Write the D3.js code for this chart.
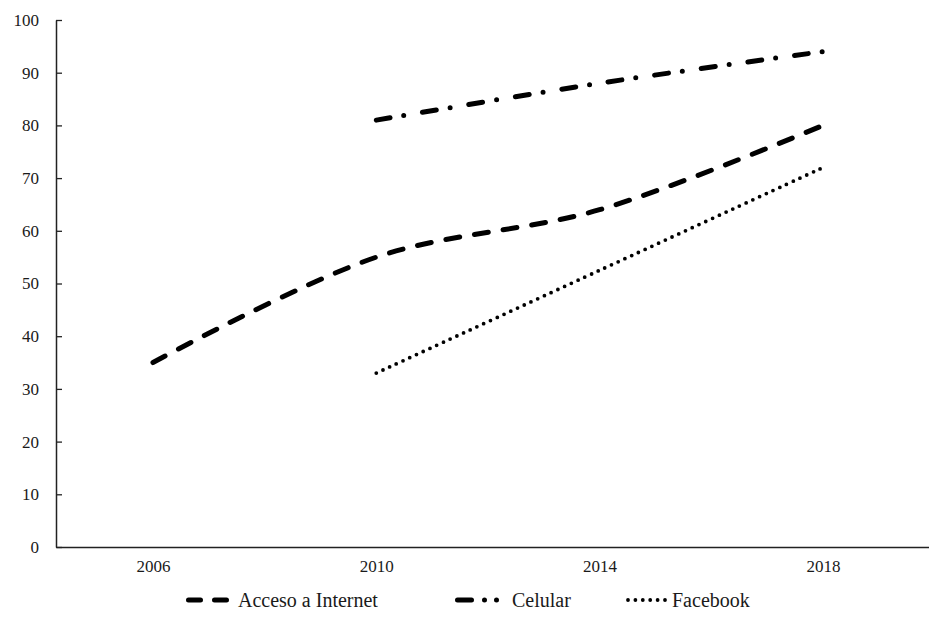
<!DOCTYPE html>
<html><head><meta charset="utf-8">
<script src="https://cdn.jsdelivr.net/npm/d3@7"></script>
<style>body{margin:0;background:#fff;}</style></head>
<body><svg id="c" width="929" height="624"></svg>
<script>
const years = [2006, 2010, 2014, 2018];
const yTicks = [0,10,20,30,40,50,60,70,80,90,100];
const acceso = [35, 55, 64, 80];
const celular = [null, 81, 88, 94];
const facebook = [null, 33, 52.5, 72];
const seriesNames = ["Acceso a Internet", "Celular", "Facebook"];

const FONT = '"Liberation Serif"';
const svg = d3.select("#c");
const mLeft = 56, mRight = 929, mTop = 20, mBottom = 547;
const x = d3.scaleLinear().domain([2004.263, 2019.9]).range([mLeft, mRight]);
const y = d3.scaleLinear().domain([0, 100]).range([mBottom, mTop]);

// Y axis
const ya = svg.append("g").attr("transform", `translate(${mLeft},0)`)
  .call(d3.axisLeft(y).tickValues(yTicks).tickSizeInner(-6).tickSizeOuter(0).tickPadding(17));
ya.select(".domain").attr("stroke", "#222").attr("stroke-width", 1.5);
ya.selectAll(".tick line").attr("stroke", "#222").attr("stroke-width", 1.3);
ya.selectAll("text").style("font-family", FONT).style("font-size", "17px").attr("fill", "#1a1a1a");

// X axis
const xa = svg.append("g").attr("transform", `translate(0,${mBottom})`)
  .call(d3.axisBottom(x).tickValues(years).tickFormat(d3.format("d")).tickSize(0).tickPadding(13));
xa.select(".domain").attr("stroke", "#222").attr("stroke-width", 1.5);
xa.selectAll("text").style("font-family", FONT).style("font-size", "17px").attr("fill", "#1a1a1a");

const styles = [
  {vals: acceso, w: 5, dash: "14,15"},
  {vals: celular, w: 5, dash: "14,14,0,19"},
  {vals: facebook, w: 3.8, dash: "0,7.4"}
];
const line = d3.line().x(d => x(d.yr)).y(d => y(d.v))
  .curve(d3.curveCatmullRom.alpha(0.5));
styles.forEach(s => {
  const pts = years.map((yr, i) => ({yr, v: s.vals[i]})).filter(d => d.v != null);
  svg.append("path").datum(pts).attr("d", line)
    .attr("fill", "none").attr("stroke", "#000").attr("stroke-width", s.w)
    .attr("stroke-linecap", "round").attr("stroke-dasharray", s.dash);
});

// Legend
const legY = 600;
const leg = [
  {name: seriesNames[0], x0: 188.5, len: 38, w: 5, dash: "12,14", tx: 238},
  {name: seriesNames[1], x0: 457.5, len: 40, w: 5, dash: "14,13,0,12,0,100", tx: 512},
  {name: seriesNames[2], x0: 628, len: 38, w: 3.8, dash: "0,7.4", tx: 672}
];
leg.forEach(l => {
  svg.append("line").attr("x1", l.x0).attr("x2", l.x0 + l.len).attr("y1", legY).attr("y2", legY)
    .attr("stroke", "#000").attr("stroke-width", l.w).attr("stroke-linecap", "round")
    .attr("stroke-dasharray", l.dash);
  svg.append("text").attr("x", l.tx).attr("y", legY + 7)
    .style("font-family", FONT).style("font-size", "20px").attr("fill", "#1a1a1a").text(l.name);
});
</script></body></html>
